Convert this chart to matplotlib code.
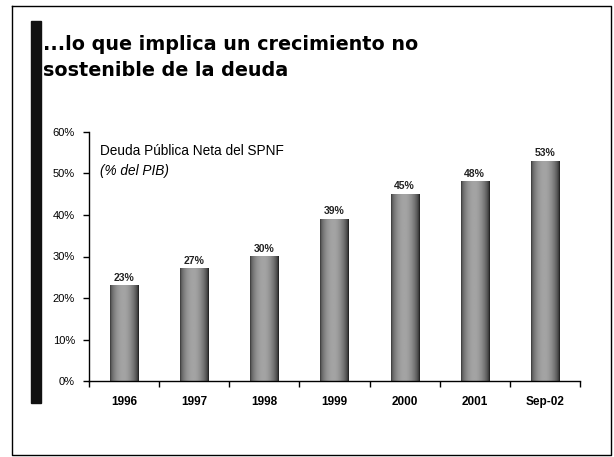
import numpy as np
import matplotlib.pyplot as plt
from matplotlib.lines import Line2D

# datos
categorias = ['1996', '1997', '1998', '1999', '2000', '2001', 'Sep-02']
deuda = [23, 27, 30, 39, 45, 48, 53]   # % del PIB
etiquetas = ['23%', '27%', '30%', '39%', '45%', '48%', '53%']
yticks = [0, 10, 20, 30, 40, 50, 60]

W, H = 614, 457
fig = plt.figure(figsize=(W / 100, H / 100), dpi=100)

def px(x, y):
    # pixel (desde arriba a la izquierda) -> coords de figura
    return x / W, 1 - y / H

# marco exterior de la diapositiva
marco = [(12, 6), (611, 6), (611, 455), (12, 455), (12, 6)]
fig.add_artist(Line2D([p[0] / W for p in marco], [1 - p[1] / H for p in marco],
                      color='black', lw=1.0))

# barra negra vertical a la izquierda
fig.add_artist(plt.Rectangle(px(31, 403), 10 / W, 382 / H, color='#111111'))

# titulo
tx, ty = px(43, 50)
fig.text(tx, ty, '...lo que implica un crecimiento no', fontsize=13.8,
         fontweight='bold', family='DejaVu Sans', va='baseline')
tx, ty = px(43, 76)
fig.text(tx, ty, 'sostenible de la deuda', fontsize=13.8,
         fontweight='bold', family='DejaVu Sans', va='baseline')

ax = fig.add_axes([89 / W, 1 - 381 / H, 491 / W, 249 / H])
x = np.arange(len(categorias))
barras = ax.bar(x, deuda, width=0.4, color='none', edgecolor='none')

# relleno con degradado gris (bordes oscuros, centro claro)
t = np.linspace(0, 1, 40)
perfil = 0.24 + 0.46 * np.sin(np.pi * t) ** 0.6 - 0.12 * t
grad = perfil[np.newaxis, :]
for b in barras:
    x0, y0 = b.get_x(), b.get_y()
    ax.imshow(grad, extent=[x0, x0 + b.get_width(), y0, y0 + b.get_height()],
              cmap='gray', vmin=0, vmax=1, aspect='auto', zorder=2)

for xi, v, lab in zip(x, deuda, etiquetas):
    ax.text(xi, v + 0.7, lab, ha='center', va='bottom', fontsize=7.5,
            family='Liberation Sans', fontweight='bold', color='#222222')

ax.set_xlim(-0.5, len(categorias) - 0.5)
ax.set_ylim(0, 60)
ax.set_yticks(yticks)
ax.set_yticklabels([f'{v}%' for v in yticks], fontsize=8,
                   family='Liberation Sans')
ax.set_xticks(x)
ax.set_xticklabels(categorias, fontsize=8.5, family='Liberation Sans',
                   fontweight='bold')
ax.set_xticks(np.arange(len(categorias) + 1) - 0.5, minor=True)
ax.tick_params(axis='x', which='major', length=0, pad=11)
ax.tick_params(axis='x', which='minor', length=4, direction='out', width=1)
ax.tick_params(axis='y', length=4, width=1, pad=6)
for s in ['top', 'right']:
    ax.spines[s].set_visible(False)
for s in ['left', 'bottom']:
    ax.spines[s].set_linewidth(1.0)

ax.text(0.022, 0.925, 'Deuda Pública Neta del SPNF', transform=ax.transAxes,
        fontsize=9.8, family='Liberation Sans', va='center')
ax.text(0.022, 0.845, '(% del PIB)', transform=ax.transAxes, fontsize=9.8,
        family='Liberation Sans', style='italic', va='center')

fig.savefig('out.png', dpi=100)
